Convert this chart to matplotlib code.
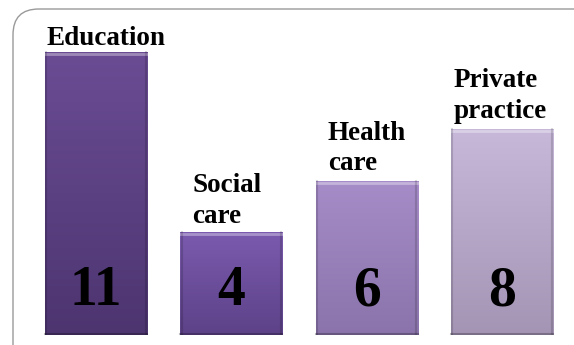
import numpy as np
import matplotlib.pyplot as plt
from matplotlib.patches import FancyBboxPatch
from matplotlib.colors import LinearSegmentedColormap

# data
categories = ["Education", "Social\ncare", "Health\ncare", "Private\npractice"]
values = [11, 4, 6, 8]
top_colors = ["#6a4c94", "#7a5aae", "#a68cc8", "#c7b8da"]
bottom_colors = ["#4d3570", "#5d4288", "#8a74ab", "#a495b5"]

fig = plt.figure(figsize=(5.74, 3.45), dpi=100)

# rounded frame (runs off the right/bottom edge)
frame = FancyBboxPatch((13 / 574, -0.2), 1.2, 1.2 - 9 / 345,
                       boxstyle="round,pad=0,rounding_size=0.045",
                       transform=fig.transFigure, fc="white", ec="#9a9a9a",
                       lw=1.0, mutation_aspect=574 / 345, zorder=-5)
fig.patches.append(frame)

ax = fig.add_axes([0, 10 / 345, 1, 335 / 345])
ax.set_zorder(2)
ax.axis("off")

x = np.arange(len(values))
bars = ax.bar(x, values, width=0.755, color=top_colors, edgecolor="none", zorder=2)

label_dx = [0.01, 0.09, 0.09, 0.02]
label_gap = [0.27, 0.36, 0.4, 0.45]

for i, b in enumerate(bars):
    cmap = LinearSegmentedColormap.from_list("g", [bottom_colors[i], top_colors[i]])
    grad = np.linspace(0, 1, 100).reshape(-1, 1)
    x0, w, h = b.get_x(), b.get_width(), b.get_height()
    im = ax.imshow(grad, cmap=cmap, aspect="auto", origin="lower",
                   extent=[x0, x0 + w, 0, h], zorder=3)
    im.set_clip_path(b)
    # bevel highlights
    ax.plot([x0, x0 + w], [h - 0.08, h - 0.08], color="white", alpha=0.35, lw=2, zorder=4)
    ax.plot([x0 + 0.01, x0 + 0.01], [0, h], color="black", alpha=0.15, lw=1.5, zorder=4)
    ax.plot([x0 + w - 0.01, x0 + w - 0.01], [0, h], color="black", alpha=0.15, lw=1.5, zorder=4)
    ax.plot([x0, x0 + w], [0.03, 0.03], color="black", alpha=0.25, lw=1.5, zorder=4)

    # value inside bar
    ax.text(x[i], 1.15, str(values[i]), ha="center", va="baseline",
            fontsize=40, fontweight="bold", family="Liberation Serif", zorder=5)

    # category label above bar
    ax.text(x0 + label_dx[i], h + label_gap[i], categories[i], ha="left", va="baseline",
            fontsize=19.5, fontweight="bold", family="Liberation Serif",
            linespacing=1.28, zorder=5)

ax.set_xlim(-0.71, 3.533)
ax.set_ylim(0, 13.02)
fig.savefig("out.png", dpi=100)
